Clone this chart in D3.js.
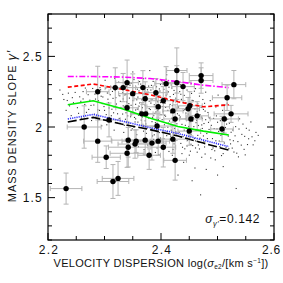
<!DOCTYPE html>
<html>
<head>
<meta charset="utf-8">
<script src="https://cdn.jsdelivr.net/npm/d3@7"></script>
<style>
	body { margin: 0; background: #fff; }
	svg text { font-family: 'Liberation Sans', Arial, sans-serif; fill: #111; }
</style>
</head>
<body>
<div></div>
<script>
// big galaxies with error bars
const bigX = [2.232, 2.264, 2.288, 2.288, 2.303, 2.308, 2.315, 2.324, 2.319, 2.333, 2.340, 2.350, 2.340, 2.342, 2.342, 2.340, 2.356, 2.372, 2.372, 2.373, 2.368, 2.391, 2.409, 2.428, 2.428, 2.439, 2.471, 2.471, 2.404, 2.395, 2.451, 2.448, 2.464, 2.421, 2.425, 2.453, 2.393, 2.354, 2.384, 2.395, 2.404, 2.421, 2.450, 2.379, 2.425, 2.529, 2.517, 2.524, 2.512, 2.508, 2.366];
const bigY = [1.564, 2.000, 2.250, 1.900, 1.786, 2.050, 1.614, 1.636, 2.279, 2.279, 2.314, 2.236, 2.136, 1.907, 1.857, 1.814, 1.900, 1.907, 2.200, 2.093, 2.279, 2.243, 2.307, 2.400, 2.314, 2.286, 2.364, 2.329, 2.186, 2.143, 2.150, 2.129, 2.079, 2.114, 2.057, 2.057, 2.007, 1.879, 1.886, 1.900, 1.857, 1.914, 1.971, 1.800, 1.764, 2.300, 2.207, 2.093, 2.057, 1.986, 2.093];
const bigXErr = [0.028, 0.030, 0.020, 0.025, 0.025, 0.020, 0.028, 0.028, 0.018, 0.022, 0.020, 0.025, 0.020, 0.030, 0.035, 0.030, 0.025, 0.030, 0.020, 0.025, 0.018, 0.020, 0.020, 0.018, 0.025, 0.020, 0.021, 0.021, 0.022, 0.020, 0.022, 0.020, 0.020, 0.018, 0.020, 0.020, 0.025, 0.030, 0.025, 0.020, 0.022, 0.025, 0.020, 0.020, 0.020, 0.021, 0.026, 0.030, 0.025, 0.020, 0.020];
const bigYErr = [0.11, 0.15, 0.18, 0.15, 0.08, 0.12, 0.12, 0.12, 0.14, 0.10, 0.16, 0.14, 0.10, 0.12, 0.14, 0.10, 0.08, 0.10, 0.12, 0.10, 0.12, 0.10, 0.12, 0.16, 0.12, 0.10, 0.09, 0.09, 0.10, 0.08, 0.10, 0.08, 0.10, 0.08, 0.10, 0.12, 0.12, 0.10, 0.12, 0.10, 0.14, 0.10, 0.10, 0.10, 0.14, 0.10, 0.09, 0.06, 0.10, 0.09, 0.08];

// simulated small points
const smallPts = [
	[2.221,2.262],[2.228,2.195],[2.232,2.118],[2.236,2.240],[2.241,2.081],[2.245,2.172],[2.249,2.288],[2.252,2.137],[2.256,2.214],[2.259,2.063],[2.262,2.251],[2.265,2.160],[2.268,2.104],[2.271,2.229],[2.274,2.190],[2.277,2.046],[2.279,2.273],[2.226,2.231],[2.238,2.150],[2.258,2.182],[2.266,2.276],[2.272,2.125],[2.243,2.208],[2.254,2.097],
	[2.281,2.156],[2.283,2.233],[2.285,2.071],[2.287,2.302],[2.289,2.187],[2.291,2.118],[2.293,2.264],[2.295,2.009],[2.297,2.213],[2.299,2.145],[2.301,2.331],[2.303,2.088],[2.305,2.241],[2.307,2.172],[2.309,2.047],[2.311,2.286],[2.313,2.126],[2.315,2.203],[2.317,1.978],[2.319,2.259],[2.321,2.163],[2.323,2.094],[2.325,2.318],[2.327,2.221],[2.329,2.139],[2.284,2.198],[2.292,2.279],[2.298,2.052],[2.306,2.197],[2.314,2.252],[2.322,2.031],[2.328,2.182],[2.296,2.166],[2.312,2.080],[2.318,2.345],
	[2.331,2.274],[2.332,2.092],[2.333,2.199],[2.334,1.962],[2.335,2.141],[2.336,2.317],[2.337,2.055],[2.338,2.233],[2.339,2.178],[2.340,2.011],[2.341,2.262],[2.342,2.118],[2.343,1.924],[2.344,2.205],[2.345,2.296],[2.346,2.073],[2.347,2.154],[2.348,2.241],[2.349,1.988],[2.350,2.187],[2.351,2.104],[2.352,2.336],[2.353,2.226],[2.354,2.036],[2.355,2.161],[2.356,2.281],[2.357,1.946],[2.358,2.127],[2.359,2.212],[2.360,2.084],[2.361,2.256],[2.362,2.171],[2.363,1.902],[2.364,2.304],[2.365,2.049],[2.366,2.193],[2.367,2.137],[2.368,2.235],[2.369,1.971],[2.370,2.098],[2.371,2.271],[2.372,2.151],[2.373,2.022],[2.374,2.218],[2.375,2.112],[2.376,1.873],[2.377,2.247],[2.378,2.064],[2.379,2.183],[2.333,2.150],[2.341,2.079],[2.347,2.310],[2.352,1.999],[2.358,2.268],[2.363,2.111],[2.369,2.342],[2.374,1.955],[2.378,2.290],[2.336,2.227],[2.344,1.892],[2.355,2.058],[2.366,2.278],[2.372,2.044],
	[2.381,2.124],[2.382,2.262],[2.383,1.986],[2.384,2.197],[2.385,2.069],[2.386,2.323],[2.387,1.913],[2.388,2.158],[2.389,2.240],[2.390,2.031],[2.391,2.107],[2.392,2.285],[2.393,1.852],[2.394,2.179],[2.395,2.054],[2.396,2.223],[2.397,1.961],[2.398,2.133],[2.399,2.301],[2.400,2.088],[2.401,1.997],[2.402,2.206],[2.403,2.145],[2.404,1.894],[2.405,2.267],[2.406,2.016],[2.407,2.168],[2.408,2.077],[2.409,2.339],[2.410,1.939],[2.411,2.192],[2.412,2.118],[2.413,2.249],[2.414,1.827],[2.415,2.043],[2.416,2.215],[2.417,2.101],[2.418,1.978],[2.419,2.276],[2.420,2.152],[2.421,2.008],[2.422,2.231],[2.423,1.881],[2.424,2.126],[2.425,2.061],[2.426,2.313],[2.427,1.952],[2.428,2.186],[2.429,2.094],[2.383,2.295],[2.388,1.945],[2.394,2.116],[2.398,2.255],[2.403,1.866],[2.408,2.139],[2.413,2.028],[2.418,2.298],[2.422,1.915],[2.427,2.242],[2.386,2.003],[2.391,2.200],[2.396,1.805],[2.401,2.328],[2.406,2.083],[2.411,1.968],[2.416,2.160],[2.421,1.841],[2.426,2.204],[2.384,2.038],[2.399,1.922],[2.414,2.282],[2.424,1.990],
	[2.431,2.142],[2.432,1.963],[2.433,2.251],[2.434,2.071],[2.435,1.884],[2.436,2.196],[2.437,2.019],[2.438,2.287],[2.439,1.932],[2.440,2.117],[2.441,2.224],[2.442,1.846],[2.443,2.058],[2.444,2.173],[2.445,1.991],[2.446,2.262],[2.447,1.905],[2.448,2.092],[2.449,2.209],[2.450,1.801],[2.451,2.036],[2.452,2.150],[2.453,1.948],[2.454,2.238],[2.455,2.077],[2.456,1.869],[2.457,2.186],[2.458,2.003],[2.459,1.918],[2.460,2.129],[2.461,2.272],[2.462,1.976],[2.463,2.048],[2.464,1.822],[2.465,2.164],[2.466,2.011],[2.467,1.893],[2.468,2.219],[2.469,2.087],[2.470,1.957],[2.471,2.140],[2.472,1.786],[2.473,2.061],[2.474,2.195],[2.475,1.937],[2.476,2.025],[2.477,1.859],[2.478,2.113],[2.479,2.247],[2.434,2.300],[2.441,1.978],[2.447,2.132],[2.453,1.878],[2.459,2.254],[2.465,1.941],[2.471,2.071],[2.477,2.168],[2.437,1.812],[2.449,2.004],[2.461,1.852],[2.473,1.990],[2.444,2.099],[2.456,2.042],[2.468,2.119],
	[2.481,1.954],[2.483,2.103],[2.485,1.876],[2.487,2.187],[2.489,2.012],[2.491,1.918],[2.493,2.061],[2.495,1.832],[2.497,2.142],[2.499,1.987],[2.501,2.226],[2.503,1.901],[2.505,2.045],[2.507,1.798],[2.509,2.118],[2.511,1.962],[2.513,2.074],[2.515,1.857],[2.517,2.169],[2.519,1.936],[2.521,2.027],[2.523,1.881],[2.525,2.093],[2.527,1.979],[2.529,1.823],[2.484,2.033],[2.492,1.852],[2.498,2.079],[2.506,1.941],[2.514,1.997],[2.522,1.910],[2.488,1.781],[2.502,1.969],[2.518,2.055],
	[2.532,2.003],[2.536,1.897],[2.539,2.058],[2.543,1.948],[2.547,1.842],[2.551,1.991],[2.555,1.917],[2.559,2.036],[2.563,1.874],[2.568,1.962],[2.534,1.815],[2.545,2.021],[2.553,1.876],
	[2.470,1.520],[2.533,1.565],[2.455,1.620],[2.430,1.660],[2.480,1.700],[2.510,1.720],[2.380,2.400],[2.410,2.370],[2.350,2.390],
	[2.335,2.012],[2.339,2.288],[2.343,2.166],[2.347,1.978],[2.351,2.243],[2.355,2.121],[2.359,2.035],[2.362,2.322],[2.367,2.071],[2.371,2.208],[2.375,1.993],[2.379,2.131],[2.338,2.101],[2.346,2.229],[2.353,2.068],[2.361,2.147],[2.368,2.005],[2.376,2.264],[2.332,2.243],[2.357,2.193],
	[2.382,2.169],[2.385,1.937],[2.389,2.097],[2.392,2.246],[2.395,1.983],[2.399,2.173],[2.402,2.052],[2.405,1.918],[2.409,2.226],[2.412,1.999],[2.415,2.144],[2.419,2.062],[2.422,2.180],[2.425,1.899],[2.428,2.023],[2.387,2.081],[2.397,2.270],[2.404,2.112],[2.417,1.936],[2.423,2.259],[2.381,1.901],[2.393,2.021],[2.407,1.866],[2.418,2.113],[2.426,1.967],
	[2.432,2.083],[2.436,1.931],[2.439,2.176],[2.443,2.012],[2.446,1.866],[2.450,2.115],[2.454,1.974],[2.457,2.066],[2.461,1.902],[2.464,2.109],[2.468,1.845],[2.472,2.015],[2.476,1.896],[2.479,2.052],[2.435,2.232],[2.442,2.124],[2.448,1.953],[2.455,2.189],[2.462,2.031],[2.469,1.921],[2.475,2.125],[2.438,1.857],[2.452,1.829],[2.466,1.873],[2.478,1.809],
	[2.482,1.918],[2.486,2.064],[2.490,1.841],[2.494,1.989],[2.497,1.903],[2.500,2.034],[2.504,1.862],[2.508,1.949],[2.512,1.887],[2.516,2.021],[2.520,1.847],[2.524,1.963],[2.528,1.903],[2.485,1.983],[2.496,1.768],[2.510,1.812],[2.526,1.851],[2.531,1.938],[2.538,1.986],[2.542,1.872],[2.548,1.934],[2.556,1.978],[2.561,1.931],[2.537,1.789],[2.549,1.803],[2.566,1.903],[2.572,1.941],
	[2.300,2.118],[2.304,2.016],[2.310,2.229],[2.316,2.101],[2.320,2.208],[2.326,2.061],[2.288,2.122],[2.294,2.218],[2.302,2.276],[2.308,2.135],[2.324,2.270],[2.282,2.091],[2.248,2.245],[2.262,2.199],[2.276,2.153],[2.234,2.188],
	[2.440,1.750],[2.460,1.710],[2.500,1.660],[2.420,1.800],[2.390,1.820],[2.370,1.840],[2.360,1.860]
];

// binned trend lines
const lineX = [2.235, 2.28, 2.33, 2.38, 2.43, 2.475, 2.52];
const magentaY = [2.357, 2.357, 2.354, 2.343, 2.321, 2.296, 2.279];
const redY = [2.282, 2.304, 2.268, 2.229, 2.179, 2.143, 2.157];
const greenY = [2.157, 2.186, 2.131, 2.064, 2.004, 1.971, 1.943];
const blueY = [2.057, 2.089, 2.043, 1.996, 1.954, 1.907, 1.861];
const blackY = [2.036, 2.068, 2.021, 1.982, 1.936, 1.886, 1.836];

const xMajor = [2.2, 2.4, 2.6];
const yMajor = [1.5, 2, 2.5];

const W = 283, H = 283;
const L = 48, T = 14, R = 274, B = 240;

const x = d3.scaleLinear().domain([2.2, 2.6]).range([L, R]);
const y = d3.scaleLinear().domain([1.2, 2.8]).range([B, T]);

const svg = d3.select('div').append('svg')
	.attr('width', W)
	.attr('height', H);

// small dots
svg.append('g').selectAll('rect')
	.data(smallPts)
	.enter()
	.append('rect')
	.attr('x', d => x(d[0]) - 0.5)
	.attr('y', d => y(d[1]) - 0.5)
	.attr('width', 1.1)
	.attr('height', 1.1)
	.attr('fill', '#333');

// error bars
const big = bigX.map((v, i) => ({x: v, y: bigY[i], xe: bigXErr[i], ye: bigYErr[i]}));
const eb = svg.append('g')
	.attr('stroke', '#b4b4b4')
	.attr('stroke-width', 1)
	.attr('fill', 'none');
big.forEach(d => {
	const cx = x(d.x), cy = y(d.y);
	const x0 = x(d.x - d.xe), x1 = x(d.x + d.xe);
	const y0 = y(d.y - d.ye), y1 = y(d.y + d.ye);
	eb.append('line').attr('x1', x0).attr('x2', x1).attr('y1', cy).attr('y2', cy);
	eb.append('line').attr('x1', cx).attr('x2', cx).attr('y1', y0).attr('y2', y1);
	eb.append('line').attr('x1', x0).attr('x2', x0).attr('y1', cy - 2.5).attr('y2', cy + 2.5);
	eb.append('line').attr('x1', x1).attr('x2', x1).attr('y1', cy - 2.5).attr('y2', cy + 2.5);
	eb.append('line').attr('x1', cx - 2.5).attr('x2', cx + 2.5).attr('y1', y0).attr('y2', y0);
	eb.append('line').attr('x1', cx - 2.5).attr('x2', cx + 2.5).attr('y1', y1).attr('y2', y1);
});

// lines
const lines = [
	{ys: magentaY, color: '#ff00ff', dash: '6,2,1.5,2'},
	{ys: redY, color: '#ff0000', dash: '4,2.5'},
	{ys: greenY, color: '#00ee00', dash: null},
	{ys: blueY, color: '#3030ff', dash: '1.2,1'},
	{ys: blackY, color: '#000', dash: '9,3'}
];
const lineGen = d3.line().x(d => x(d[0])).y(d => y(d[1]));
lines.forEach(l => {
	svg.append('path')
		.datum(lineX.map((v, i) => [v, l.ys[i]]))
		.attr('d', lineGen)
		.attr('fill', 'none')
		.attr('stroke', l.color)
		.attr('stroke-width', 1.6)
		.attr('stroke-dasharray', l.dash);
});

// big dots
svg.append('g').selectAll('circle')
	.data(big)
	.enter()
	.append('circle')
	.attr('cx', d => x(d.x))
	.attr('cy', d => y(d.y))
	.attr('r', 2.7)
	.attr('fill', '#000');

// frame and ticks on all sides
svg.append('rect')
	.attr('x', L).attr('y', T)
	.attr('width', R - L).attr('height', B - T)
	.attr('fill', 'none')
	.attr('stroke', '#000')
	.attr('stroke-width', 1.2);

const xt = d3.range(2.2, 2.6001, 0.05);
const yt = d3.range(1.2, 2.8001, 0.1);
const isMaj = (v, step) => Math.abs(v / step - Math.round(v / step)) < 1e-6;
const tk = svg.append('g').attr('stroke', '#000').attr('stroke-width', 1);
xt.forEach(v => {
	const len = isMaj(v, 0.2) ? 7 : 4;
	tk.append('line').attr('x1', x(v)).attr('x2', x(v)).attr('y1', B).attr('y2', B - len);
	tk.append('line').attr('x1', x(v)).attr('x2', x(v)).attr('y1', T).attr('y2', T + len);
});
yt.forEach(v => {
	const len = isMaj(v, 0.5) ? 7 : 4;
	tk.append('line').attr('x1', L).attr('x2', L + len).attr('y1', y(v)).attr('y2', y(v));
	tk.append('line').attr('x1', R).attr('x2', R - len).attr('y1', y(v)).attr('y2', y(v));
});

// tick labels (last one pulled in so it stays on the page)
svg.selectAll('.xl')
	.data(xMajor)
	.enter()
	.append('text')
	.attr('x', d => d === 2.6 ? 281 : x(d) + 1)
	.attr('y', 254)
	.attr('text-anchor', d => d === 2.6 ? 'end' : 'middle')
	.style('font-size', '12px')
	.style('letter-spacing', d => d === 2.6 ? '0.8px' : '1.2px')
	.text(d => d.toFixed(1));

svg.selectAll('.yl')
	.data(yMajor)
	.enter()
	.append('text')
	.attr('x', 43)
	.attr('y', d => y(d) + 4.5)
	.attr('text-anchor', 'end')
	.style('font-size', '12px')
	.style('letter-spacing', '1.2px')
	.text(d => d === 2 ? '2' : d.toFixed(1));

// axis titles
const xt2 = svg.append('text')
	.attr('x', 161)
	.attr('y', 267)
	.attr('text-anchor', 'middle')
	.style('font-size', '11px')
	.style('letter-spacing', '0.3px');
xt2.append('tspan').text('VELOCITY DISPERSION  log(');
xt2.append('tspan').style('font-style', 'italic').text('σ');
xt2.append('tspan').attr('dy', 2).style('font-size', '6.5px').text('e2');
xt2.append('tspan').attr('dy', -2).text('/[km s');
xt2.append('tspan').attr('dy', -4).style('font-size', '6.5px').text('−1');
xt2.append('tspan').attr('dy', 4).text('])');

const yt2 = svg.append('text')
	.attr('transform', 'translate(16,126) rotate(-90)')
	.attr('text-anchor', 'middle')
	.style('font-size', '11px')
	.style('letter-spacing', '0.9px');
yt2.append('tspan').text('MASS DENSITY SLOPE   ');
yt2.append('tspan').style('font-style', 'italic').style('font-size', '13px').text('γ′');

// scatter annotation
const ann = svg.append('text')
	.attr('x', 260)
	.attr('y', 223)
	.attr('text-anchor', 'end')
	.style('font-size', '12px')
	.style('letter-spacing', '0.6px');
ann.append('tspan').style('font-style', 'italic').text('σ');
ann.append('tspan').attr('dy', 2.5).style('font-size', '7.5px').style('font-style', 'italic').text('γ′');
ann.append('tspan').attr('dy', -2.5).text('=0.142');
</script>
</body>
</html>
